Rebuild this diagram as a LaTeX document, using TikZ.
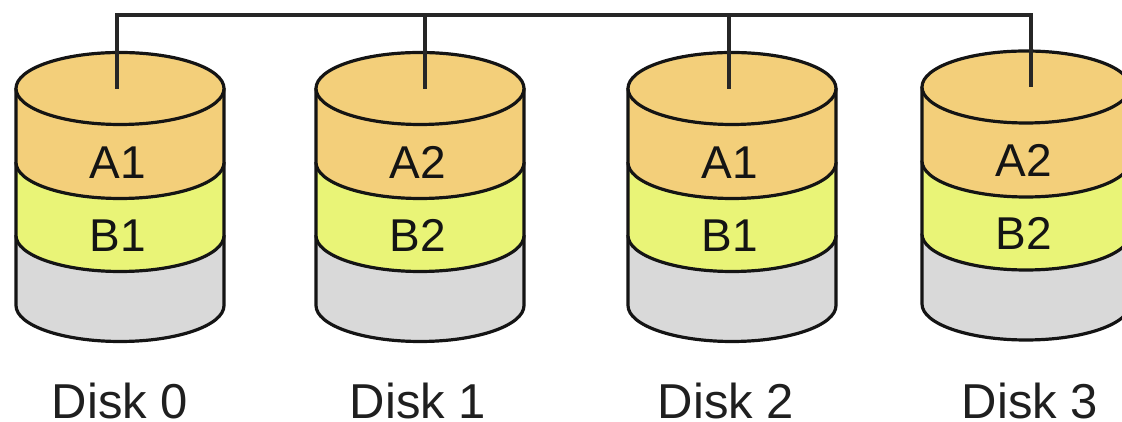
\documentclass[tikz,border=0pt]{standalone}
\usepackage{fontspec}
\setmainfont{Liberation Sans}
\definecolor{layerA}{HTML}{F3CF7A}
\definecolor{layerB}{HTML}{E9F477}
\definecolor{layerC}{HTML}{D9D9D9}
\tikzset{
  x=1pt,y=1pt,
  disk line/.style={draw=black!92,line width=3.2pt,line join=round},
  bus line/.style={draw=black!85,line width=3.2pt,line join=miter},
  slice text/.style={font=\fontsize{46}{46}\selectfont,anchor=base,inner sep=0pt,text=black!92},
  disk text/.style={font=\fontsize{49}{49}\selectfont,anchor=base,inner sep=0pt,text=black!88},
}
% #1 id, #2 centre x, #3 top-ellipse centre y, #4 slice A, #5 slice B, #6 caption, #7 caption x
\newcommand{\drawdisk}[7]{
  \path[disk line,fill=layerC] (#2-104,#3-147) -- (#2-104,#3-217)
     arc[start angle=180,end angle=360,x radius=104,y radius=36] -- (#2+104,#3-147) -- cycle;
  \path[disk line,fill=layerB] (#2-104,#3-74) -- (#2-104,#3-147)
     arc[start angle=180,end angle=360,x radius=104,y radius=36] -- (#2+104,#3-74) -- cycle;
  \path[disk line,fill=layerA] (#2-104,#3) -- (#2-104,#3-74)
     arc[start angle=180,end angle=360,x radius=104,y radius=36] -- (#2+104,#3) -- cycle;
  \path[disk line,fill=layerA] (#2,#3) ellipse[x radius=104,y radius=36];
  \node[slice text] (a#1) at (#2-2,#3-90) {#4};
  \node[slice text] (b#1) at (#2-2,#3-163) {#5};
  \node[disk text] (c#1) at (#7,3) {#6};
}
\begin{document}
\begin{tikzpicture}
\clip (0,0) rectangle (1122,422);
\drawdisk{0}{120}{333.5}{A1}{B1}{Disk 0}{120}
\drawdisk{1}{420}{333.5}{A2}{B2}{Disk 1}{418}
\drawdisk{2}{732}{333.5}{A1}{B1}{Disk 2}{726}
\drawdisk{3}{1026}{335}{A2}{B2}{Disk 3}{1030}
\coordinate (t0) at (117,333);
\coordinate (t1) at (425,333);
\coordinate (t2) at (729,333);
\coordinate (t3) at (1031,335);
\coordinate (h0) at (117,407);
\coordinate (h1) at (425,407);
\coordinate (h2) at (729,407);
\coordinate (h3) at (1031,407);
\draw[bus line] (t0) -- (h0) -- (h3) -- (t3);
\draw[bus line] (t1) -- (h1);
\draw[bus line] (t2) -- (h2);
\end{tikzpicture}
\end{document}
